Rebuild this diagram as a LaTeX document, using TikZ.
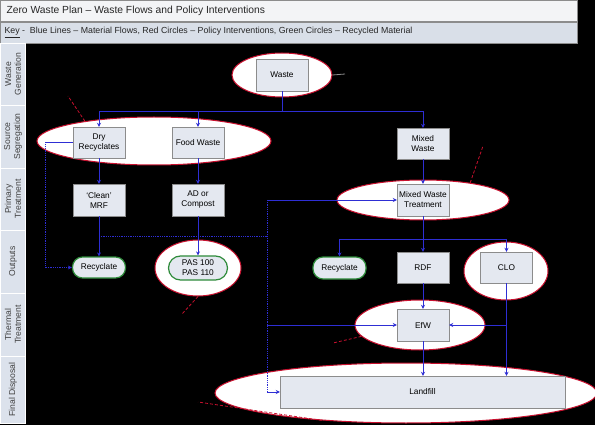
\documentclass[tikz,border=0pt]{standalone}
\usepackage{fontspec}
\setmainfont{Liberation Sans}
\usepackage{xcolor}
\definecolor{cBoxFill}{HTML}{E4E8F0}
\definecolor{cBoxLine}{HTML}{8C8C8C}
\definecolor{cFlow}{HTML}{2E2ED4}
\definecolor{cPolicy}{HTML}{C8102E}
\definecolor{cRecycled}{HTML}{2E8B3A}
\definecolor{cLane}{HTML}{DCE2EC}
\definecolor{cTitle}{HTML}{F3F4F6}
\definecolor{cKey}{HTML}{D9DFE8}
\usepackage{tikz}
\usetikzlibrary{positioning,arrows.meta,shapes.geometric,calc}
\tikzset{
  node-box/.style={draw=cBoxLine,fill=cBoxFill,minimum width=52pt,minimum height=32pt,
    inner sep=1pt,align=center,font=\fontsize{8.3}{10}\selectfont},
  node-pill/.style={draw=cRecycled,line width=1.2pt,fill=cBoxFill,rounded corners=10pt,
    minimum width=53pt,minimum height=21pt,inner sep=1pt,align=center,
    font=\fontsize{8.3}{10}\selectfont},
  node-ring/.style={ellipse,draw=cPolicy,line width=1pt,fill=white,inner sep=0pt},
  lane-frame/.style={draw=white,fill=cLane},
  lane-text/.style={align=center,font=\fontsize{8.6}{9.8}\selectfont,text=black!75},
  arrow-flow/.style={-{Stealth[length=4pt,width=4pt]},line width=1pt,draw=cFlow},
  line-flow/.style={line width=1pt,draw=cFlow},
  arrow-residue/.style={-{Stealth[length=4pt,width=4pt]},densely dotted,line width=0.8pt,draw=cFlow},
  line-residue/.style={densely dotted,line width=0.8pt,draw=cFlow},
  callout/.style={draw=cPolicy,densely dashed,line width=0.8pt},
}

\begin{document}
\begin{tikzpicture}[x=1pt,y=-1pt]
  \useasboundingbox (0,0) rectangle (595,425);
  \fill[black] (0,0) rectangle (595,425);

  % title and key
  \draw[draw=cBoxLine,fill=cTitle] (0.5,0.5) rectangle (577,21.5);
  \node[anchor=west,font=\fontsize{10.3}{12}\selectfont,text=black!85] (title) at (3,11)
    {Zero Waste Plan -- Waste Flows and Policy Interventions};
  \draw[draw=cBoxLine,fill=cKey] (0.5,22) rectangle (577,43);
  \node[anchor=west,font=\fontsize{8.8}{10}\selectfont,text=black!85] (key) at (1,32.5)
    {\underline{Key} - \ Blue Lines -- Material Flows, Red Circles -- Policy Interventions, Green Circles -- Recycled Material};

  % swim lanes
  \foreach \top/\bot/\name [count=\i] in {43/105/{Waste\\Generation},105/168/{Source\\Segregation},
      168/230/{Primary\\Treatment},230/293/{Outputs},293/356/{Thermal\\Treatment},356/423/{Final Disposal}}{
    \draw[lane-frame] (0,\top) rectangle (25,\bot);
    \node[lane-text,rotate=90] (lane\i) at (13,{(\top+\bot)/2}) {\name};
  }

  % policy interventions
  \node[node-ring,minimum width=100pt,minimum height=44pt] (ringWaste) at (282,75) {};
  \node[node-ring,minimum width=234pt,minimum height=48pt] (ringSource) at (154,141) {};
  \node[node-ring,minimum width=172pt,minimum height=40pt] (ringMwt) at (423,200) {};
  \node[node-ring,minimum width=86pt,minimum height=56pt] (ringPas) at (198,268) {};
  \node[node-ring,minimum width=84pt,minimum height=58pt] (ringClo) at (506,271) {};
  \node[node-ring,minimum width=130pt,minimum height=50pt] (ringEfw) at (420,325) {};
  \node[node-ring,minimum width=382pt,minimum height=60pt] (ringLand) at (406,393) {};

  % stages
  \node[node-box] (waste) at (282,75) {Waste};
  \node[node-box,minimum height=31pt] (dry) at (99,142.5) {Dry\\Recyclates};
  \node[node-box,minimum height=31pt] (food) at (198,142.5) {Food Waste};
  \node[node-box,minimum height=31pt] (mixed) at (423,143.5) {Mixed\\Waste};
  \node[node-box] (mrf) at (99,200) {`Clean'\\MRF};
  \node[node-box] (ad) at (198,200) {AD or\\Compost};
  \node[node-box] (mwt) at (423,200) {Mixed Waste\\Treatment};
  \node[node-pill] (recyA) at (99,267.5) {Recyclate};
  \node[node-pill,minimum width=59pt,minimum height=24pt,rounded corners=12pt] (pas) at (198,268) {PAS 100\\PAS 110};
  \node[node-pill,minimum height=22pt] (recyB) at (339.5,268) {Recyclate};
  \node[node-box,minimum height=31pt] (rdf) at (423,267.5) {RDF};
  \node[node-box,minimum height=31pt] (clo) at (506.5,267.5) {CLO};
  \node[node-box] (efw) at (423,325) {EfW};
  \node[node-box,minimum width=285pt] (landfill) at (422.5,392) {Landfill};

  % source segregation
  \coordinate (splitSrc) at (282,112);
  \draw[line-flow] (waste.south) -- (splitSrc);
  \draw[arrow-flow] (splitSrc) -| (dry.north);
  \draw[arrow-flow] (splitSrc) -| (mixed.north);
  \draw[arrow-flow] (food.north |- splitSrc) -- (food.north);

  % primary treatment and outputs
  \draw[arrow-flow] (dry) -- (mrf);
  \draw[arrow-flow] (food) -- (ad);
  \draw[arrow-flow] (mixed) -- (mwt);
  \coordinate (dryDrop) at (45,267.5);
  \draw[line-flow,line width=0.7pt] (dry.west) -- (dry.west -| dryDrop);
  \draw[arrow-residue] (dry.west -| dryDrop) -- (dryDrop) -- (recyA.west);
  \draw[arrow-flow] (mrf) -- (recyA);
  \draw[arrow-flow] (ad) -- (pas);

  % residues
  \coordinate (busTop) at (267,200);
  \coordinate (busMid) at (267,236);
  \coordinate (busBot) at (267,392);
  \draw[line-residue] (mrf.south |- busMid) -- (busMid);
  \draw[line-residue] (busTop) -- (busBot);
  \draw[arrow-flow,line width=0.7pt] (busTop) -- (mwt.west);
  \draw[arrow-flow,line width=0.7pt] (busTop |- efw.west) -- (efw.west);
  \draw[arrow-flow,line width=0.7pt] (busBot) -- (landfill.west);

  % mixed waste treatment outputs
  \coordinate (splitMwt) at (423,240);
  \draw[line-flow] (mwt.south) -- (splitMwt);
  \draw[arrow-flow] (splitMwt) -| (recyB.north);
  \draw[arrow-flow] (splitMwt) -| (clo.north);
  \draw[arrow-flow] (splitMwt) -- (rdf.north);

  % thermal treatment and disposal
  \draw[arrow-flow] (rdf) -- (efw);
  \draw[arrow-flow] (efw.south) -- (efw.south |- landfill.north);
  \draw[arrow-flow] (clo.south) -- (clo.south |- landfill.north);
  \draw[arrow-flow] (clo.south |- efw.east) -- (efw.east);

  % callout tails
  \coordinate (tagWaste) at (345,74);
  \coordinate (tagSource) at (68,96);
  \coordinate (tagMwt) at (483,146);
  \coordinate (tagPas) at (182,314);
  \coordinate (tagEfw) at (333,343);
  \coordinate (tagLand) at (198,402);
  \draw[callout,draw=black!45,solid] (ringWaste.east) -- (tagWaste);
  \draw[callout] (ringSource.164) -- (tagSource);
  \draw[callout] (ringMwt.20) -- (tagMwt);
  \draw[callout] (ringPas.south) -- (tagPas);
  \draw[callout] (ringEfw.191) -- (tagEfw);
  \draw[callout] (ringLand.198) -- (tagLand);
\end{tikzpicture}
\end{document}
